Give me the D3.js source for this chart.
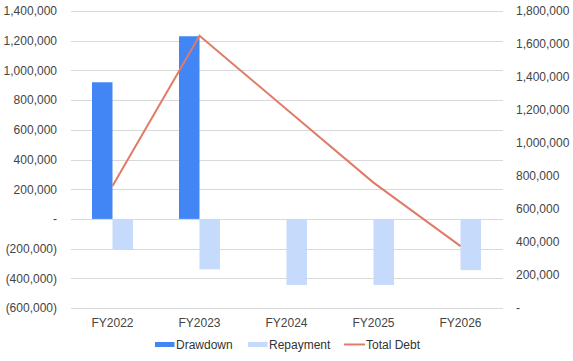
<!DOCTYPE html>
<html><head><meta charset="utf-8">
<script src="https://cdn.jsdelivr.net/npm/d3@7"></script>
<style>body{margin:0;background:#fff}svg{display:block;font-family:"Liberation Sans",Arial,sans-serif}</style>
</head><body><svg id="c" width="573" height="361"></svg>
<script>
const categories = ["FY2022","FY2023","FY2024","FY2025","FY2026"];
const drawdown = [920000, 1230000, 0, 0, 0];
const repayment = [-205000, -340000, -445000, -445000, -345000];
const totalDebt = [740000, 1650000, 1205000, 760000, 375000];
const leftTicks = [1400000,1200000,1000000,800000,600000,400000,200000,0,-200000,-400000,-600000];
const rightTicks = [1800000,1600000,1400000,1200000,1000000,800000,600000,400000,200000,0];
const seriesNames = ["Drawdown","Repayment","Total Debt"];
const colors = {Drawdown:"#4285f4", Repayment:"#c6dafc", "Total Debt":"#e07b68"};

const svg = d3.select("#c");
const X0 = 69, X1 = 504, YT = 11, YB = 308;
const x = d3.scaleBand().domain(categories).range([X0, X1]);
const yL = d3.scaleLinear().domain([-600000, 1400000]).range([YB, YT]);
const yR = d3.scaleLinear().domain([0, 1800000]).range([YB, YT]);
const fmt = v => v === 0 ? "-" : (v < 0 ? "(" + d3.format(",")(-v) + ")" : d3.format(",")(v));

// gridlines
svg.append("g").selectAll("line").data(leftTicks).join("line")
  .attr("x1", X0+2).attr("x2", X1-1)
  .attr("y1", d => Math.round(yL(d))+0.5).attr("y2", d => Math.round(yL(d))+0.5)
  .attr("stroke", "#d9d9d9").attr("stroke-width", 1);

// left axis
const gl = svg.append("g").attr("transform", `translate(${X0-9},0)`)
  .call(d3.axisLeft(yL).tickValues(leftTicks).tickFormat(fmt).tickSize(0));
gl.select(".domain").remove();
gl.selectAll("text").attr("fill", "#444").attr("font-size", 12).attr("font-family", "Liberation Sans, Arial, sans-serif");

// right axis
const gr = svg.append("g").attr("transform", `translate(${X1+9},0)`)
  .call(d3.axisRight(yR).tickValues(rightTicks).tickFormat(fmt).tickSize(0));
gr.select(".domain").remove();
gr.selectAll("text").attr("fill", "#444").attr("font-size", 12).attr("font-family", "Liberation Sans, Arial, sans-serif");

// x axis labels
const gx = svg.append("g").attr("transform", `translate(0,${YB+7})`)
  .call(d3.axisBottom(x).tickSize(0));
gx.select(".domain").remove();
gx.selectAll("text").attr("fill", "#444").attr("font-size", 12).attr("font-family", "Liberation Sans, Arial, sans-serif");

// bars
const bw = 20.5;
const x1 = d3.scaleBand().domain(["Drawdown","Repayment"]).range([-bw, bw]);
const barData = [];
categories.forEach((c, i) => {
  barData.push({c, s:"Drawdown", v: drawdown[i]});
  barData.push({c, s:"Repayment", v: repayment[i]});
});
svg.append("g").selectAll("rect").data(barData.filter(d => d.v !== 0)).join("rect")
  .attr("x", d => x(d.c) + x.bandwidth()/2 + x1(d.s))
  .attr("width", x1.bandwidth())
  .attr("y", d => Math.min(yL(d.v), yL(0)))
  .attr("height", d => Math.abs(yL(d.v) - yL(0)))
  .attr("fill", d => colors[d.s]);

// line
const line = d3.line().x((d, i) => x(categories[i]) + x.bandwidth()/2).y(d => yR(d));
svg.append("path").datum(totalDebt).attr("d", line)
  .attr("fill", "none").attr("stroke", colors["Total Debt"]).attr("stroke-width", 2);

// legend
const lg = svg.append("g").attr("font-size", 12).attr("fill", "#333");
const legendItems = [
  {n:"Drawdown", x:155, type:"rect"},
  {n:"Repayment", x:248, type:"rect"},
  {n:"Total Debt", x:344, type:"line"}
];
legendItems.forEach(it => {
  if (it.type === "rect") {
    lg.append("rect").attr("x", it.x).attr("y", 342).attr("width", 19.5).attr("height", 5).attr("fill", colors[it.n]);
  } else {
    lg.append("line").attr("x1", it.x).attr("x2", it.x+21).attr("y1", 344.5).attr("y2", 344.5)
      .attr("stroke", colors[it.n]).attr("stroke-width", 2);
  }
  lg.append("text").attr("x", it.x + (it.type==="rect"?21:22)).attr("y", 348.5).attr("fill", "#333").text(it.n);
});
</script></body></html>
